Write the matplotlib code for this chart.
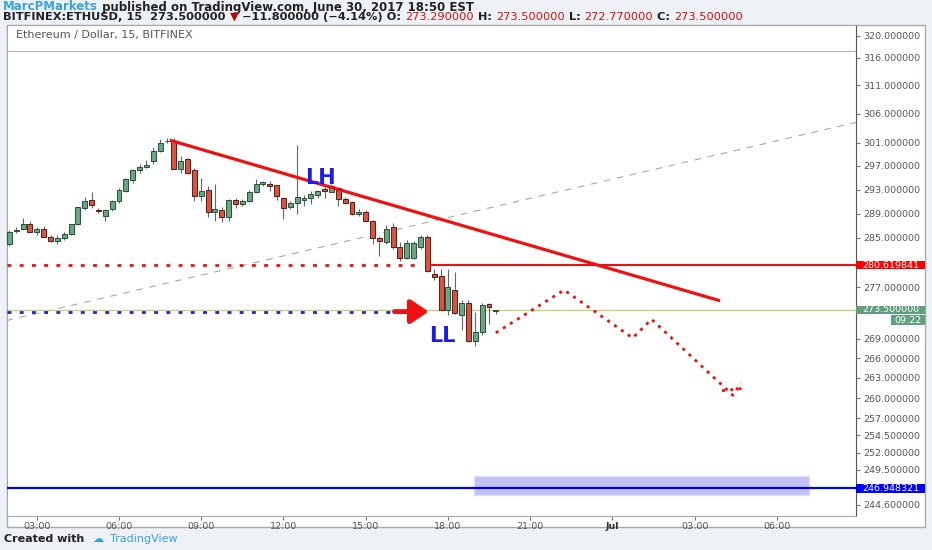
import matplotlib
matplotlib.use('Agg')
import matplotlib.pyplot as plt
from matplotlib.patches import Rectangle

# ETHUSD 15 min candles, 30 June 2017, 02:00 .. 19:45 (time in hours)
opens = [284.0, 286.1, 286.4, 287.2, 286.0, 286.5, 285.2, 284.5, 285.0, 285.6,
         287.2, 289.9, 291.2, 289.6, 288.6, 289.7, 291.0, 292.8, 294.6, 296.3,
         296.8, 297.9, 299.5, 301.2, 301.3, 296.5, 298.1, 296.3, 291.9, 293.0,
         289.2, 289.6, 288.5, 291.2, 290.6, 291.1, 292.6, 294.0, 294.0, 293.7,
         291.6, 290.0, 290.8, 291.2, 291.5, 292.0, 293.1, 292.6, 293.2, 291.4,
         290.9, 288.9, 289.3, 287.7, 285.0, 284.3, 286.8, 283.5, 281.7, 281.8,
         283.5, 285.2, 279.2, 278.8, 273.5, 276.6, 272.7, 274.6, 268.6, 270.1,
         274.4, 273.29]
highs = [286.3, 286.8, 288.2, 287.7, 286.8, 286.9, 285.4, 285.4, 286.0, 287.3,
         290.1, 291.8, 292.5, 289.9, 289.8, 291.2, 293.3, 295.0, 296.5, 297.3,
         298.0, 300.2, 301.6, 301.7, 301.7, 298.6, 298.4, 296.6, 294.9, 293.6,
         294.0, 290.0, 291.4, 291.5, 291.4, 293.0, 294.7, 294.5, 294.4, 293.8,
         291.8, 291.0, 300.6, 292.0, 292.8, 293.0, 293.4, 293.9, 293.4, 291.7,
         291.1, 289.8, 289.6, 288.0, 285.3, 287.1, 287.4, 284.3, 284.6, 284.4,
         285.5, 285.4, 279.9, 280.0, 279.9, 279.5, 275.0, 275.0, 273.2, 274.6,
         274.6, 273.5]
lows = [283.7, 285.8, 286.2, 285.9, 285.5, 285.1, 284.3, 284.0, 284.7, 285.5,
        287.1, 289.5, 289.9, 289.1, 287.8, 289.4, 290.8, 292.6, 294.1, 295.8,
        296.7, 297.4, 299.3, 300.9, 296.4, 295.8, 295.6, 291.0, 291.0, 288.5,
        287.8, 287.6, 287.8, 289.9, 290.3, 290.9, 292.4, 293.6, 292.8, 291.2,
        288.1, 289.7, 288.9, 290.3, 290.6, 291.6, 291.6, 292.5, 290.2, 290.5,
        288.8, 288.6, 287.6, 284.0, 282.0, 284.0, 283.1, 281.3, 281.6, 281.6,
        283.2, 279.5, 278.2, 273.4, 272.7, 272.9, 270.4, 268.5, 267.8, 269.6,
        271.2, 272.77]
closes = [285.9, 286.3, 287.2, 286.0, 286.5, 285.2, 284.5, 285.0, 285.6, 287.2,
          290.0, 291.0, 290.4, 289.4, 289.5, 291.1, 293.0, 294.7, 296.3, 296.8,
          297.1, 299.6, 301.0, 301.3, 296.5, 297.9, 295.8, 291.9, 292.8, 289.2,
          289.7, 288.5, 291.3, 290.6, 291.1, 292.6, 294.0, 294.2, 293.6, 291.9,
          289.9, 290.8, 291.8, 291.5, 292.3, 292.8, 292.8, 293.6, 291.4, 290.7,
          288.9, 289.3, 287.7, 284.9, 284.4, 286.5, 283.5, 281.7, 284.1, 284.2,
          285.2, 279.6, 278.6, 273.5, 277.1, 273.0, 274.5, 268.6, 270.1, 274.2,
          273.9, 273.5]
times = [2 + 0.25 * i for i in range(len(opens))]

# drawings
trend_t = [7.85, 27.93]
trend_p = [301.4, 274.9]
fan_t = [1.89, 32.89]
fan_p = [271.8, 304.5]
proj_t = [19.75, 22.24, 24.74, 25.43, 28.40, 28.69]
proj_p = [269.9, 276.6, 269.1, 272.0, 260.4, 262.25]
proj2_t = [28.0, 28.73]
proj2_p = [261.1, 261.4]
resist = 280.619841
last_price = 273.5
blue_dot = 273.2
support = 246.948321
zone_t = [18.97, 31.19]
zone_p = [245.94, 248.63]

yticks = [320, 316, 311, 306, 301, 297, 293, 289, 285, 277, 269, 266, 263,
          260, 257, 254.5, 252, 249.5, 244.6]
xticks = [3, 6, 9, 12, 15, 18, 21, 24, 27, 30]
xlabels = ['03:00', '06:00', '09:00', '12:00', '15:00', '18:00', '21:00',
           'Jul', '03:00', '06:00']

W, H = 932, 550
fig = plt.figure(figsize=(9.32, 5.5), dpi=100, facecolor='#eef2f7')


def fx(x):
    return x / W


def fy(y):
    return 1 - y / H


fig.add_artist(Rectangle((fx(6.5), fy(527)), fx(925) - fx(6.5), fy(25) - fy(527),
                         transform=fig.transFigure, facecolor='white',
                         edgecolor='#a9a9a9', lw=1, zorder=-1))

ax = fig.add_axes([fx(6.5), fy(516), fx(856) - fx(6.5), fy(25) - fy(516)])
ax.set_facecolor('white')
ax.set_yscale('log')
ax.set_ylim(243.0, 321.97)
ax.set_xlim(1.894, 32.89)

# candles
up_fill, up_edge = '#6ba583', '#225437'
dn_fill, dn_edge = '#d75442', '#5b1a13'
for t, o, h, l, c in zip(times, opens, highs, lows, closes):
    up = c >= o
    ax.vlines(t, l, h, color='#666666', lw=0.8, zorder=2)
    ax.bar(t, abs(c - o), bottom=min(o, c), width=0.18,
           color=up_fill if up else dn_fill,
           edgecolor=up_edge if up else dn_edge, lw=0.7, zorder=3)

# lines
ax.axhline(317.2, color='#b5b5b5', lw=0.8, zorder=1)
ax.plot(fan_t, fan_p, color='#a8a8a8', lw=0.8, dashes=(6, 6), zorder=1)
ax.axhline(last_price, color='#c3d47f', lw=1, zorder=1)
ax.plot([1.894, 17.0], [resist, resist], color='#ee1111', lw=2, dashes=(1.4, 3), zorder=4)
ax.plot([17.38, 32.89], [resist, resist], color='#ee1111', lw=1.5, zorder=4)
ax.plot([1.894, 15.88], [blue_dot, blue_dot], color='#2020dd', lw=2, dashes=(1.4, 3), zorder=4)
ax.plot(trend_t, trend_p, color='#ee1111', lw=2.3, zorder=5, solid_capstyle='butt')
ax.plot(proj_t, proj_p, color='#ee1111', lw=2, dashes=(1.1, 1.9), zorder=4)
ax.plot(proj2_t, proj2_p, color='#ee1111', lw=2, dashes=(1.1, 1.9), zorder=4)
ax.add_patch(Rectangle((zone_t[0], zone_p[0]), zone_t[1] - zone_t[0], zone_p[1] - zone_p[0],
                       facecolor='#c3c3f7', edgecolor='#dedefc', lw=1, zorder=2))
ax.axhline(support, color='#0000ee', lw=1.6, zorder=3)

ax.annotate('', xy=(17.3, blue_dot), xytext=(16.05, blue_dot),
            arrowprops=dict(arrowstyle='-|>,head_length=0.6,head_width=0.4',
                            color='#ee1111', lw=3.5, mutation_scale=18,
                            shrinkA=0, shrinkB=0), zorder=6)

ax.text(13.36, 294.9, 'LH', color='#1b1bf0', fontsize=15, fontweight='bold',
        ha='center', va='center', zorder=6)
ax.text(17.80, 269.4, 'LL', color='#1b1bf0', fontsize=15, fontweight='bold',
        ha='center', va='center', zorder=6)

# axes
ax.set_yticks(yticks, labels=[f'{v:.6f}' for v in yticks])
ax.set_yticks([], minor=True)
ax.yaxis.tick_right()
ax.tick_params(axis='y', which='both', length=3, width=0.8, color='#777777',
               labelcolor='#555555', labelsize=6.8, pad=2)
ax.set_xticks(xticks, labels=xlabels)
ax.tick_params(axis='x', length=3, width=0.8, color='#777777',
               labelcolor='#555555', labelsize=6.8, pad=1.5)
jul = ax.get_xticklabels()[7]
jul.set_fontweight('bold')
jul.set_color('#333333')
for s in ['left', 'top', 'bottom']:
    ax.spines[s].set_color('#a9a9a9')
ax.spines['right'].set_color('#555555')

fig.text(fx(16), fy(35), 'Ethereum / Dollar, 15, BITFINEX', fontsize=8,
         color='#555555', va='center')

# coloured price labels
def price_box(y0, y1, x0, text, col):
    fig.add_artist(Rectangle((fx(x0), fy(y1)), fx(925) - fx(x0), fy(y0) - fy(y1),
                             transform=fig.transFigure, facecolor=col,
                             edgecolor='none', zorder=5))
    fig.text(fx((x0 + 925) / 2), fy((y0 + y1) / 2), text, color='white',
             fontsize=6.8, ha='center', va='center', zorder=6)


price_box(260.7, 269.3, 856, f'{resist:.6f}', '#ff0000')
price_box(305.7, 314.3, 856, f'{last_price:.6f}', '#5f9e7f')
price_box(315.5, 325.0, 890.7, '09:22', '#5f9e7f')
price_box(484.3, 492.7, 856, f'{support:.6f}', '#0000ff')

# header / footer text
renderer = fig.canvas.get_renderer()


def seq(x, y, parts, size=8):
    for s, col, wt in parts:
        t = fig.text(fx(x), fy(y), s, color=col, fontsize=size, fontweight=wt,
                     va='center', ha='left')
        x += t.get_window_extent(renderer).width


dark = '#222222'
red = '#d01010'
seq(3, 7, [('MarcPMarkets', '#3ca1db', 'bold'),
           (' published on TradingView.com, June 30, 2017 18:50 EST', dark, 'bold')],
    size=8.5)
seq(3, 17, [('BITFINEX:ETHUSD, 15  273.500000 ', dark, 'bold'),
            ('▼', '#c00000', 'normal'),
            (' −11.800000 (−4.14%) O: ', dark, 'bold'),
            ('273.290000', red, 'normal'),
            (' H: ', dark, 'bold'),
            ('273.500000', red, 'normal'),
            (' L: ', dark, 'bold'),
            ('272.770000', red, 'normal'),
            (' C: ', dark, 'bold'),
            ('273.500000', red, 'normal')], size=8.2)
seq(4, 539, [('Created with  ', dark, 'bold'),
             ('☁', '#3ca1db', 'normal'),
             ('  TradingView', '#3ca1db', 'normal')])

fig.savefig('out.png', dpi=100, facecolor=fig.get_facecolor())
